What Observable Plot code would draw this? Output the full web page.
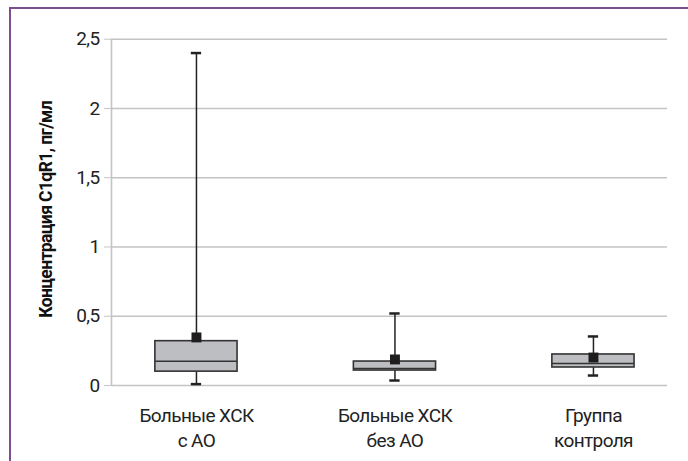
<!DOCTYPE html>
<html>
<head>
<meta charset="utf-8">
<script src="https://cdn.jsdelivr.net/npm/d3@7"></script>
<script src="https://cdn.jsdelivr.net/npm/@observablehq/plot@0.6"></script>
<style>
  html, body { margin: 0; padding: 0; background: #fff; }
  #wrap { position: relative; width: 688px; height: 461px; overflow: hidden; }
  #frame { position: absolute; left: 9px; top: 7px; right: -10px; bottom: -10px;
           border-top: 2px solid #7d4e8f; border-left: 2px solid #7d4e8f; pointer-events: none; }
  svg { display: block; }
  svg text { letter-spacing: -0.6px; }
</style>
</head>
<body>
<div id="wrap"><div id="chart"></div><div id="frame"></div></div>
<script>
const categories = ["Больные ХСК\nс АО", "Больные ХСК\nбез АО", "Группа\nконтроля"];
const minValues    = [0.01, 0.036, 0.072];
const q1Values     = [0.10, 0.108, 0.13];
const medianValues = [0.175, 0.123, 0.159];
const q3Values     = [0.32, 0.173, 0.224];
const maxValues    = [2.40, 0.52, 0.354];
const meanValues   = [0.347, 0.188, 0.202];
const yTicks = [0, 0.5, 1, 1.5, 2, 2.5];
const yTitle = "Концентрация С1qR1, пг/мл";

const rows = categories.map((c, i) => ({
  i, c, min: minValues[i], q1: q1Values[i], med: medianValues[i],
  q3: q3Values[i], max: maxValues[i], mean: meanValues[i]
}));

const font = "Roboto, 'Liberation Sans Narrow', sans-serif";
const hw = 0.207;   // half box width in category units
const cw = 0.026;   // half cap width

const chart = Plot.plot({
  width: 688,
  height: 461,
  marginLeft: 111,
  marginRight: 21,
  marginTop: 38.7,
  marginBottom: 76,
  style: { fontFamily: font, fontSize: "19px", color: "#222", background: "#fff" },
  x: { type: "linear", domain: [-0.428, 2.373], axis: null },
  y: { domain: [0, 2.5] },
  marks: [
    Plot.ruleY(yTicks, { stroke: "#c4c4c4", strokeWidth: 1.6 }),
    Plot.ruleX([0], { x: () => -0.428, y1: 0, y2: 2.5, stroke: "#c4c4c4", strokeWidth: 1.6 }),
    Plot.axisY({ ticks: yTicks, tickSize: 7, tickPadding: 5, stroke: "#c4c4c4",
      tickFormat: d => String(d).replace(".", ","), label: null, fontSize: 19, fill: "#222" }),
    Plot.text([yTitle], { frameAnchor: "left", textAnchor: "middle", dx: -65, dy: -3, rotate: -90,
      fontWeight: "bold", fontSize: 17.5, fill: "#111" }),
    // whiskers
    Plot.ruleX(rows, { x: "i", y1: "min", y2: "q1", stroke: "#222", strokeWidth: 1.5 }),
    Plot.ruleX(rows, { x: "i", y1: "q3", y2: "max", stroke: "#222", strokeWidth: 1.5 }),
    Plot.ruleY(rows, { y: "min", x1: d => d.i - cw, x2: d => d.i + cw, stroke: "#222", strokeWidth: 2.5 }),
    Plot.ruleY(rows, { y: "max", x1: d => d.i - cw, x2: d => d.i + cw, stroke: "#222", strokeWidth: 2.5 }),
    // boxes
    Plot.rect(rows, { x1: d => d.i - hw, x2: d => d.i + hw, y1: "q1", y2: "q3",
      fill: "#bdbec1", stroke: "#333", strokeWidth: 1.6 }),
    Plot.ruleY(rows, { y: "med", x1: d => d.i - hw, x2: d => d.i + hw, stroke: "#333", strokeWidth: 1.6 }),
    // means
    Plot.dot(rows, { x: "i", y: "mean", symbol: "square", r: 5.6, fill: "#1e1c1d", stroke: "none" }),
    // category labels
    Plot.text(rows, { x: "i", text: "c", frameAnchor: "bottom", lineAnchor: "top",
      dy: 18, lineHeight: 1.35, fontSize: 19, fill: "#222" })
  ]
});
document.getElementById("chart").appendChild(chart);
</script>
</body>
</html>
